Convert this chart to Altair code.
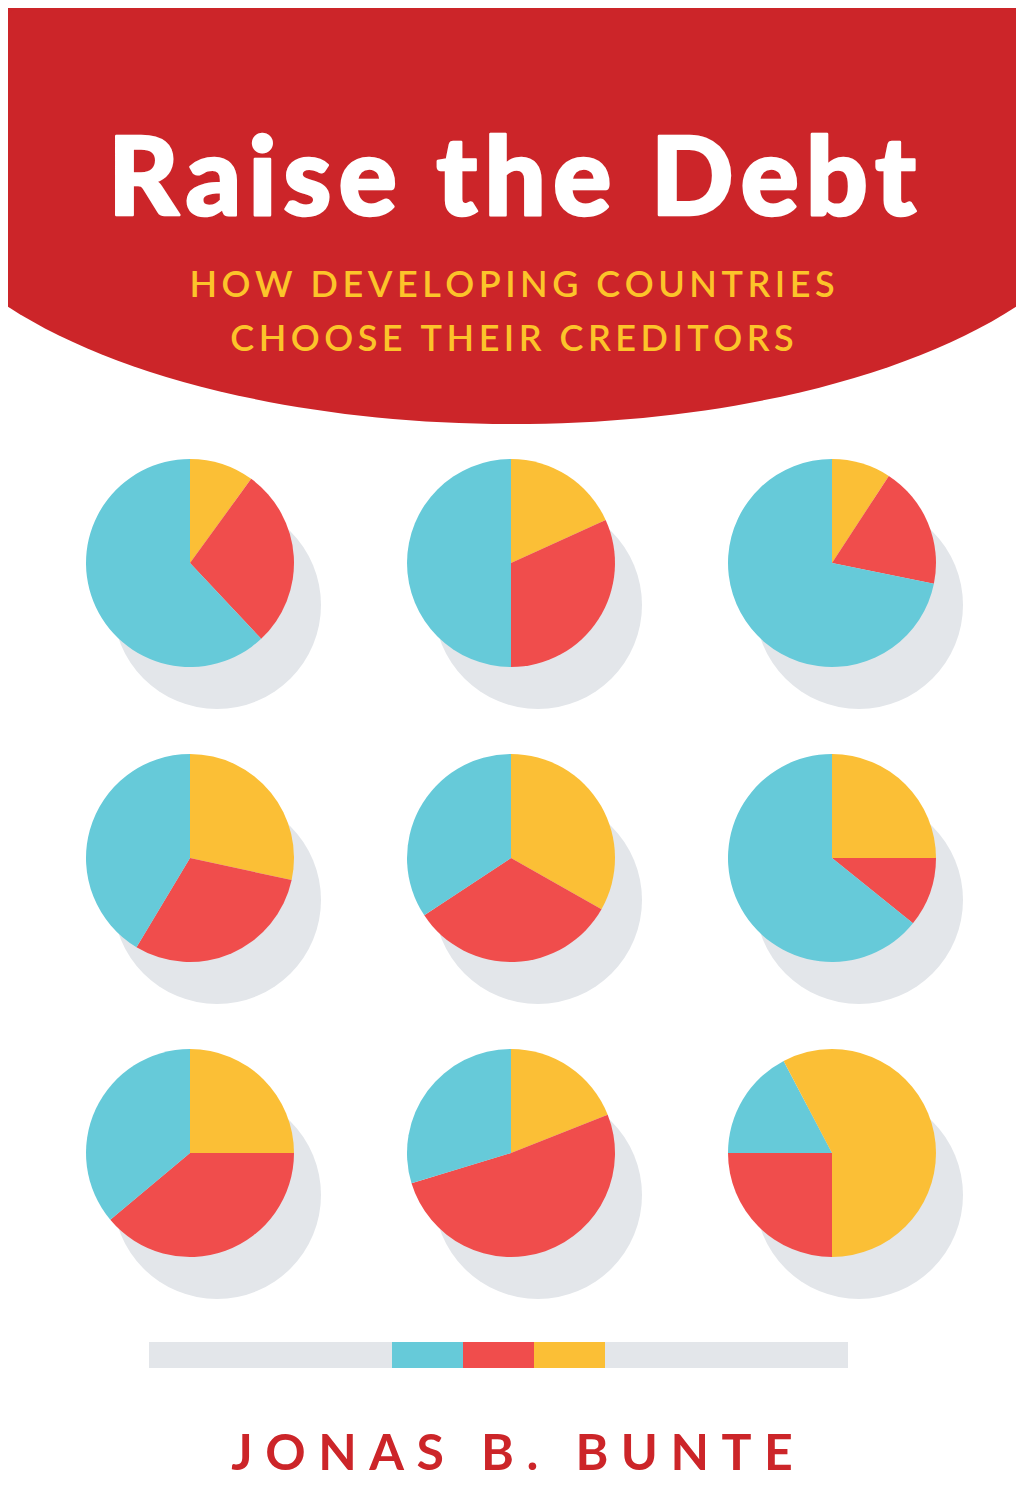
import altair as alt
import pandas as pd

# ---------------- data ----------------
title_text = "Raise the Debt"
subtitle_lines = ["HOW DEVELOPING COUNTRIES", "CHOOSE THEIR CREDITORS"]
author_text = "JONAS B. BUNTE"

categories = ["cyan", "red", "yellow"]
pie_ids = [1, 2, 3, 4, 5, 6, 7, 8, 9]
pie_cols = [0, 1, 2, 0, 1, 2, 0, 1, 2]
pie_rows = [0, 0, 0, 1, 1, 1, 2, 2, 2]
yellow_share = [10.0, 18.2, 9.2, 28.4, 33.2, 25.0, 25.0, 19.0, 57.7]
red_share = [28.0, 31.8, 19.0, 30.2, 32.5, 10.8, 38.9, 51.3, 25.0]
cyan_share = [62.0, 50.0, 71.8, 41.4, 34.3, 64.2, 36.1, 29.7, 17.3]
# part of the yellow slice that lies just before 12 o'clock
yellow_wrap = [0, 0, 0, 0, 0, 0, 0, 0, 7.7]

# ---------------- styles ----------------
RED = "#cc2529"
YELLOW_TXT = "#fcc42a"
PIE_COLORS = ["#66cad9", "#f04d4c", "#fbbf36"]
SHADOW = "#e3e6ea"
W, H = 1008, 1476
FONT = "Lato"
THIN = "\u2009"
HAIR = "\u200a"


def spaced(s, gap):
    return gap.join(list(s))


rows = []
for i, p in enumerate(pie_ids):
    parts = [("yellow", yellow_share[i] - yellow_wrap[i]),
             ("red", red_share[i]),
             ("cyan", cyan_share[i]),
             ("yellow", yellow_wrap[i])]
    for k, (c, v) in enumerate(parts):
        if v > 0:
            rows.append({"pie": p, "col": pie_cols[i], "row": pie_rows[i],
                         "cat": c, "value": v, "order": k})
slices = pd.DataFrame(rows)
centers = pd.DataFrame({"pie": pie_ids, "col": pie_cols, "row": pie_rows})
one = pd.DataFrame({"k": [0]})

xs = alt.Scale(domain=[0, 2], range=[182, 824])
ys = alt.Scale(domain=[0, 2], range=[555, 1145])

header_rect = alt.Chart(one).mark_rect(color=RED).encode(
    x=alt.value(0), x2=alt.value(W), y=alt.value(0), y2=alt.value(152))

c = 0.5523
k = 0.4356
ell = (f"M-1,0C-1,{-k*c:.4f},{-c},{-k},0,{-k}C{c},{-k},1,{-k*c:.4f},1,0"
       f"C1,{k*c:.4f},{c},{k},0,{k}C{-c},{k},-1,{k*c:.4f},-1,0Z")
header_ell = alt.Chart(one).mark_point(
    shape=ell, size=1212 ** 2, filled=True, fill=RED, opacity=1,
    strokeWidth=0, clip=True).encode(x=alt.value(504), y=alt.value(152))

title = alt.Chart(one).mark_text(
    text=spaced(title_text, HAIR), font=FONT, fontSize=109, fontWeight=900,
    color="white", stroke="white", strokeWidth=2.5, strokeJoin="round",
    align="center", baseline="alphabetic").encode(
    x=alt.value(504), y=alt.value(207))

sub1 = alt.Chart(one).mark_text(
    text=spaced(subtitle_lines[0], THIN), font=FONT, fontSize=36,
    fontWeight=600, color=YELLOW_TXT, align="center",
    baseline="alphabetic").encode(x=alt.value(504), y=alt.value(289))
sub2 = alt.Chart(one).mark_text(
    text=spaced(subtitle_lines[1], THIN), font=FONT, fontSize=36,
    fontWeight=600, color=YELLOW_TXT, align="center",
    baseline="alphabetic").encode(x=alt.value(504), y=alt.value(343))

shadows = alt.Chart(centers).mark_circle(
    size=208 ** 2, color=SHADOW, opacity=1, xOffset=27,
    yOffset=42).encode(
    x=alt.X("col:Q", scale=xs, axis=None),
    y=alt.Y("row:Q", scale=ys, axis=None))

pies = alt.Chart(slices).transform_stack(
    stack="value", groupby=["pie"], as_=["start", "end"], offset="normalize",
    sort=[alt.SortField("order", "ascending")]).mark_arc(radius=104).encode(
    x=alt.X("col:Q", scale=xs, axis=None),
    y=alt.Y("row:Q", scale=ys, axis=None),
    theta=alt.Theta("start:Q", scale=alt.Scale(domain=[0, 1],
                                               range=[0, 6.283185])),
    theta2="end:Q",
    color=alt.Color("cat:N", scale=alt.Scale(domain=categories,
                                             range=PIE_COLORS), legend=None))

bar_bg = alt.Chart(one).mark_rect(color=SHADOW).encode(
    x=alt.value(141), x2=alt.value(840), y=alt.value(1334), y2=alt.value(1360))
seg_layers = []
seg_start = 384
for i, cat in enumerate(categories):
    seg_layers.append(alt.Chart(one).mark_rect(color=PIE_COLORS[i]).encode(
        x=alt.value(seg_start + 71 * i), x2=alt.value(seg_start + 71 * (i + 1)),
        y=alt.value(1334), y2=alt.value(1360)))

author = alt.Chart(one).mark_text(
    text=spaced(author_text, THIN + THIN), font=FONT, fontSize=50,
    fontWeight="bold", color=RED, align="center",
    baseline="alphabetic").encode(x=alt.value(504), y=alt.value(1462))

chart = alt.layer(header_rect, header_ell, title, sub1, sub2, shadows, pies,
                  bar_bg, *seg_layers, author).properties(
    width=W, height=H, background="white", padding=0, autosize="none"
).configure_view(stroke=None)

chart.save("out.html", embed_options={"renderer": "svg", "actions": False})
